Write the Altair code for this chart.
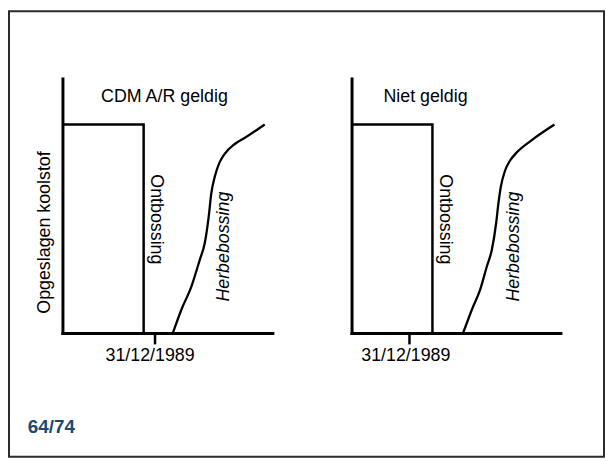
import altair as alt
import pandas as pd

FONT = "Liberation Sans"

# ---------------- data ----------------
panel_titles = ["CDM A/R geldig", "Niet geldig"]
axis_start_year = [1980.7, 1984.17]
axis_end_year = [2001.9, 2005.27]
carbon_axis_top = 1.22
carbon_stock = 1.0
deforest_year = [1988.9, 1992.34]
cutoff_year = 1990.0
cutoff_label = "31/12/1989"
y_title = "Opgeslagen koolstof"
label_deforest = "Ontbossing"
label_reforest = "Herbebossing"
page_number = "64/74"

regrow_year_1 = [1991.85, 1992.73, 1993.73, 1994.57, 1995.07, 1995.47, 1995.73,
                 1996.07, 1996.57, 1997.07, 1998.07, 1999.13, 2001.13]
regrow_c_1 = [0.0, 0.114, 0.224, 0.351, 0.430, 0.557, 0.668,
              0.747, 0.818, 0.858, 0.905, 0.936, 1.0]
regrow_year_2 = [1995.44, 1996.34, 1997.17, 1997.84, 1998.34, 1998.77, 1999.0,
                 1999.24, 1999.67, 2000.17, 2000.84, 2002.34, 2004.67]
regrow_c_2 = [0.0, 0.114, 0.209, 0.32, 0.399, 0.525, 0.62,
              0.699, 0.778, 0.826, 0.865, 0.924, 1.0]
regrow_years = [regrow_year_1, regrow_year_2]
regrow_cs = [regrow_c_1, regrow_c_2]

# annotation anchors (data units)
title_year = [1991.0, 1991.64]
title_c = 1.107
defor_label_year = [1990.18, 1993.64]
defor_label_c = 0.545
refor_label_year = [1997.03, 2000.59]
refor_label_c = 0.414
page_year = 1977.2
page_c = -0.479

# ---------------- layout ----------------
W, H = 601, 450
X_RANGES = [[54, 266], [346, 557]]
Y_RANGE = [325, 68]


def panel(i):
    xs = alt.Scale(domain=[axis_start_year[i], axis_end_year[i]], range=X_RANGES[i],
                   nice=False, zero=False)
    ys = alt.Scale(domain=[0, carbon_axis_top], range=Y_RANGE, nice=False, zero=False)
    xaxis = alt.Axis(values=[cutoff_year], labelExpr=f"'{cutoff_label}'", title=None,
                     grid=False, orient="bottom", offset=-(H - Y_RANGE[0]),
                     domainWidth=3, domainColor="black", domainCap="square",
                     tickSize=11, tickWidth=2.5, tickColor="black",
                     labelFont=FONT, labelFontSize=18, labelColor="black",
                     labelPadding=3, labelOffset=-5 if i == 0 else -4, labelFlush=False,
                     labelOverlap=False)
    yargs = dict(labels=False, ticks=False, grid=False, orient="left",
                 offset=-X_RANGES[i][0], domainWidth=3, domainColor="black",
                 domainCap="square")
    if i == 0:
        yaxis = alt.Axis(title=y_title, titleFont=FONT, titleFontSize=18,
                         titleFontWeight="normal", titleColor="black", titleAngle=-90,
                         titleX=-9, titleY=223, titleBaseline="bottom",
                         titleAlign="center", **yargs)
    else:
        yaxis = alt.Axis(title=None, **yargs)

    X = alt.X("year:Q", scale=xs, axis=xaxis)
    Y = alt.Y("c:Q", scale=ys, axis=yaxis)

    box_df = pd.DataFrame({
        "year": [axis_start_year[i], deforest_year[i], deforest_year[i]],
        "c": [carbon_stock, carbon_stock, 0.0],
        "o": [0, 1, 2],
    })
    box = alt.Chart(box_df).mark_line(color="black", strokeWidth=2.5,
                                      strokeJoin="miter").encode(
        x=X, y=Y, order="o:Q")

    curve_df = pd.DataFrame({"year": regrow_years[i], "c": regrow_cs[i]})
    curve = alt.Chart(curve_df).mark_line(color="black", strokeWidth=2.3,
                                          interpolate="monotone").encode(x=X, y=Y)

    title_df = pd.DataFrame({"year": [title_year[i]], "c": [title_c],
                             "t": [panel_titles[i]]})
    title = alt.Chart(title_df).mark_text(font=FONT, fontSize=18, color="black",
                                          align="center", baseline="alphabetic").encode(
        x=X, y=Y, text="t:N")

    defor_df = pd.DataFrame({"year": [defor_label_year[i]], "c": [defor_label_c],
                             "t": [label_deforest]})
    defor = alt.Chart(defor_df).mark_text(font=FONT, fontSize=18, color="black",
                                          angle=90, align="center",
                                          baseline="middle").encode(
        x=X, y=Y, text="t:N")

    refor_df = pd.DataFrame({"year": [refor_label_year[i]], "c": [refor_label_c],
                             "t": [label_reforest]})
    refor = alt.Chart(refor_df).mark_text(font=FONT, fontSize=18, color="black",
                                          fontStyle="italic", angle=270,
                                          align="center", baseline="middle").encode(
        x=X, y=Y, text="t:N")

    layers = [box, curve, title, defor, refor]
    if i == 0:
        page_df = pd.DataFrame({"year": [page_year], "c": [page_c], "t": [page_number]})
        page = alt.Chart(page_df).mark_text(font=FONT, fontSize=19, fontWeight="bold",
                                            color="#1b4a6f", align="left",
                                            baseline="alphabetic").encode(
            x=X, y=Y, text="t:N")
        layers.append(page)
    return alt.layer(*layers)


chart = alt.layer(panel(0), panel(1)).resolve_scale(
    x="independent", y="independent"
).properties(
    width=W, height=H,
    padding={"left": 1, "top": 1, "right": 1, "bottom": 1},
    autosize=alt.AutoSizeParams(type="none"),
    background="white",
).configure_view(stroke="#2b2b2b", strokeWidth=2)

chart.save("out.html", embed_options={"renderer": "svg", "actions": False})
